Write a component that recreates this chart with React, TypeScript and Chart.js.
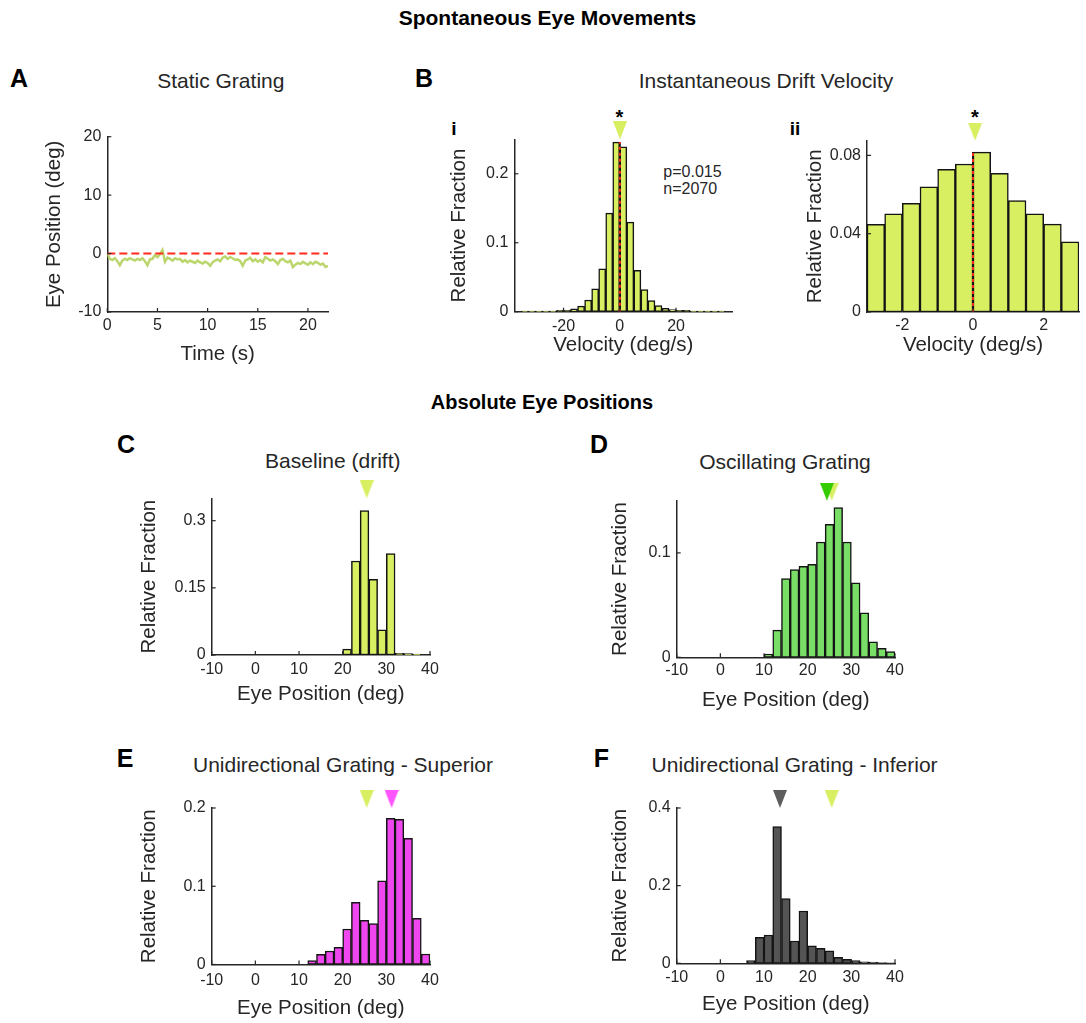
import React, { useEffect, useRef } from 'react';
import { Chart, registerables } from 'chart.js';

Chart.register(...registerables);

// ---------------- DATA ----------------
// Panel A: eye position over time (static grating)
const A_TIME_S = [0, 0.25, 0.5, 0.75, 1, 1.25, 1.5, 1.75, 2, 2.25, 2.5, 2.75, 3, 3.25, 3.5, 3.75, 4, 4.25, 4.5, 4.75, 5, 5.25, 5.5, 5.75, 6, 6.25, 6.5, 6.75, 7, 7.25, 7.5, 7.75, 8, 8.25, 8.5, 8.75, 9, 9.25, 9.5, 9.75, 10, 10.25, 10.5, 10.75, 11, 11.25, 11.5, 11.75, 12, 12.25, 12.5, 12.75, 13, 13.25, 13.5, 13.75, 14, 14.25, 14.5, 14.75, 15, 15.25, 15.5, 15.75, 16, 16.25, 16.5, 16.75, 17, 17.25, 17.5, 17.75, 18, 18.25, 18.5, 18.75, 19, 19.25, 19.5, 19.75, 20, 20.25, 20.5, 20.75, 21, 21.25, 21.5, 21.75, 22];
const A_EYE_POS_DEG = [0, -0.9, -1.1, -0.8, -1.3, -2.0, -1.2, -0.9, -1.1, -0.8, -1.0, -1.2, -0.9, -1.1, -0.8, -1.3, -2.0, -1.0, -0.9, -0.3, -0.6, -0.1, 0.6, -1.4, -0.7, -0.9, -1.2, -0.8, -1.0, -0.9, -1.4, -1.1, -1.5, -1.2, -1.4, -1.6, -1.2, -1.5, -1.7, -1.4, -1.6, -2.1, -1.5, -1.2, -1.0, -1.3, -0.7, -0.5, -0.9, -0.6, -0.8, -1.1, -1.0, -1.3, -2.1, -1.2, -1.0, -0.7, -1.3, -1.0, -1.4, -1.1, -1.5, -0.6, -0.9, -1.2, -1.0, -1.3, -1.8, -1.1, -0.9, -1.3, -1.5, -1.2, -2.3, -1.9, -1.6, -1.8, -1.4, -1.7, -1.9, -1.5, -1.8, -1.4, -1.6, -1.9, -1.7, -2.3, -2.1];
const A_REFERENCE_DEG = 0;
const A_X_TICKS = [0, 5, 10, 15, 20];
const A_Y_TICKS = [-10, 0, 10, 20];

// Panel Bi: drift velocity histogram (2.5 deg/s bins)
const BI_BIN_CENTERS = [-33.75, -31.25, -28.75, -26.25, -23.75, -21.25, -18.75, -16.25, -13.75, -11.25, -8.75, -6.25, -3.75, -1.25, 1.25, 3.75, 6.25, 8.75, 11.25, 13.75, 16.25, 18.75, 21.25, 23.75, 26.25, 28.75, 31.25, 33.75, 36.25];
const BI_FRACTION = [0.001, 0.001, 0.001, 0.001, 0.001, 0.002, 0.002, 0.004, 0.008, 0.017, 0.033, 0.062, 0.143, 0.246, 0.239, 0.130, 0.060, 0.032, 0.016, 0.009, 0.005, 0.003, 0.002, 0.002, 0.001, 0.001, 0.001, 0.001, 0.001];
const BI_X_TICKS = [-20, 0, 20];
const BI_Y_TICKS = [0, 0.1, 0.2];

// Panel Bii: zoomed drift velocity histogram (0.5 deg/s bins)
const BII_BIN_CENTERS = [-2.75, -2.25, -1.75, -1.25, -0.75, -0.25, 0.25, 0.75, 1.25, 1.75, 2.25, 2.75];
const BII_FRACTION = [0.0448, 0.0501, 0.0555, 0.0640, 0.0729, 0.0756, 0.0817, 0.0708, 0.0569, 0.0501, 0.0449, 0.0359];
const BII_X_TICKS = [-2, 0, 2];
const BII_Y_TICKS = [0, 0.04, 0.08];
const B_MEAN_VELOCITY = 0.06;
const B_ZERO_VELOCITY = 0;

// Panels C–F: absolute eye position histograms (2 deg bins)
const POS_X_TICKS = [-10, 0, 10, 20, 30, 40];

const C_BIN_CENTERS = [21, 23, 25, 27, 29, 31, 33, 35, 37];
const C_FRACTION = [0.013, 0.210, 0.3225, 0.169, 0.056, 0.2265, 0.004, 0.003, 0.002];
const C_Y_TICKS = [0, 0.15, 0.3];
const BASELINE_MEAN_DEG = 25.5;

const D_BIN_CENTERS = [11, 13, 15, 17, 19, 21, 23, 25, 27, 29, 31, 33, 35, 37, 39];
const D_FRACTION = [0.003, 0.026, 0.0755, 0.084, 0.0872, 0.0891, 0.1104, 0.1273, 0.1433, 0.1104, 0.0713, 0.0426, 0.0149, 0.0086, 0.0054];
const D_Y_TICKS = [0, 0.1];
const D_MEAN_DEG = 24.4;

const E_BIN_CENTERS = [13, 15, 17, 19, 21, 23, 25, 27, 29, 31, 33, 35, 37, 39];
const E_FRACTION = [0.0049, 0.013, 0.0173, 0.022, 0.0454, 0.0795, 0.0565, 0.0522, 0.107, 0.1868, 0.1855, 0.1613, 0.059, 0.0134];
const E_Y_TICKS = [0, 0.1, 0.2];
const E_MEAN_DEG = 31.2;

const F_BIN_CENTERS = [7, 9, 11, 13, 15, 17, 19, 21, 23, 25, 27, 29, 31, 33, 35, 37, 39];
const F_FRACTION = [0.0067, 0.067, 0.073, 0.352, 0.167, 0.0574, 0.1347, 0.0453, 0.0386, 0.0324, 0.0155, 0.0103, 0.0067, 0.004, 0.003, 0.002, 0.001];
const F_Y_TICKS = [0, 0.2, 0.4];
const F_MEAN_DEG = 13.65;

// ---------------- STYLE ----------------
const FONT = '"Liberation Sans", Arial, Helvetica, sans-serif';
const INK = '#262626';
const EDGE = '#141414';
const RED = '#ff2a1a';
const YG = '#d8ef62';
const LINE_GREEN = '#bcd66e';
const GREEN_BAR = '#78de66';
const GREEN_MARK = '#33cc00';
const MAGENTA_BAR = '#f046f0';
const MAGENTA_MARK = '#ff55ff';
const GRAY_BAR = '#545454';
const GRAY_MARK = '#5e5e5e';

Chart.defaults.font.family = FONT;
Chart.defaults.color = INK;

type Box = {
  left: number; top: number; width: number; height: number;
  plotLeft: number; plotRight: number; plotTop: number; plotBottom: number;
  xTickPad: number;
};

const BOX_A: Box = { left: 42, top: 118, width: 306, height: 249, plotLeft: 107.3, plotRight: 328, plotTop: 136.7, plotBottom: 312, xTickPad: 3.5 };
const BOX_BI: Box = { left: 447, top: 95, width: 305, height: 263, plotLeft: 514.3, plotRight: 732.3, plotTop: 139.3, plotBottom: 311.7, xTickPad: 5 };
const BOX_BII: Box = { left: 803, top: 95, width: 283, height: 263, plotLeft: 867, plotRight: 1085, plotTop: 140.7, plotBottom: 312, xTickPad: 3.5 };
const BOX_C: Box = { left: 137, top: 470, width: 313, height: 237, plotLeft: 211.7, plotRight: 430, plotTop: 498.3, plotBottom: 655, xTickPad: 5 };
const BOX_D: Box = { left: 608, top: 472, width: 307, height: 241, plotLeft: 676.7, plotRight: 895, plotTop: 500.7, plotBottom: 657.3, xTickPad: 3.5 };
const BOX_E: Box = { left: 137, top: 780, width: 313, height: 241, plotLeft: 211.7, plotRight: 430, plotTop: 808, plotBottom: 964.5, xTickPad: 6 };
const BOX_F: Box = { left: 608, top: 780, width: 307, height: 237, plotLeft: 676.7, plotRight: 895, plotTop: 808, plotBottom: 963.3, xTickPad: 5 };

const inwardTicks = {
  id: 'inwardTicks',
  afterDatasetsDraw(chart: any) {
    const { ctx, chartArea } = chart;
    ctx.save();
    ctx.strokeStyle = INK;
    ctx.lineWidth = 1.2;
    Object.values(chart.scales).forEach((s: any) => {
      s.ticks.forEach((t: any) => {
        const p = s.getPixelForValue(t.value);
        ctx.beginPath();
        if (s.isHorizontal()) {
          ctx.moveTo(p, chartArea.bottom);
          ctx.lineTo(p, chartArea.bottom - 4);
        } else {
          ctx.moveTo(chartArea.left, p);
          ctx.lineTo(chartArea.left + 4, p);
        }
        ctx.stroke();
      });
    });
    ctx.restore();
  },
};

function makeTriangle(color: string, w = 14, h = 18): HTMLCanvasElement {
  const c = document.createElement('canvas');
  c.width = w;
  c.height = 2 * h;
  const g = c.getContext('2d')!;
  g.fillStyle = color;
  g.beginPath();
  g.moveTo(0, 0);
  g.lineTo(w, 0);
  g.lineTo(w / 2, h);
  g.closePath();
  g.fill();
  return c;
}

function layoutPadding(box: Box) {
  return {
    left: 0,
    bottom: 0,
    top: box.plotTop - box.top,
    right: box.left + box.width - box.plotRight,
  };
}

function buildScales(
  box: Box,
  xRange: [number, number], xTicks: number[], xTitle: string,
  yRange: [number, number], yTicks: number[], yTitle: string,
) {
  const tickFont = { family: FONT, size: 16 };
  const titleFont = { family: FONT, size: 20.5, lineHeight: 1.2 };
  const border = { display: true, color: INK, width: 1.5 };
  const grid = { display: false, drawTicks: false };
  return {
    x: {
      type: 'linear',
      min: xRange[0],
      max: xRange[1],
      offset: false,
      grid,
      border,
      afterBuildTicks: (s: any) => { s.ticks = xTicks.map((v) => ({ value: v })); },
      afterFit: (s: any) => { s.height = box.top + box.height - box.plotBottom; },
      ticks: { font: tickFont, color: INK, padding: box.xTickPad, autoSkip: false, maxRotation: 0, minRotation: 0, callback: (v: any) => String(v) },
      title: { display: true, text: xTitle, font: titleFont, color: INK, padding: 0 },
    },
    y: {
      type: 'linear',
      min: yRange[0],
      max: yRange[1],
      grid,
      border,
      afterBuildTicks: (s: any) => { s.ticks = yTicks.map((v) => ({ value: v })); },
      afterFit: (s: any) => { s.width = box.plotLeft - box.left; },
      ticks: { font: tickFont, color: INK, padding: 6, autoSkip: false, callback: (v: any) => String(v) },
      title: { display: true, text: yTitle, font: titleFont, color: INK, padding: 0 },
    },
  };
}

const baseOptions = (box: Box) => ({
  animation: false as const,
  responsive: false,
  maintainAspectRatio: false,
  events: [] as any[],
  layout: { padding: layoutPadding(box) },
  plugins: { legend: { display: false }, tooltip: { enabled: false }, title: { display: false } },
});

type Marker = { x: number; color: string };

type HistSpec = {
  box: Box;
  centers: number[];
  values: number[];
  fill: string;
  xRange: [number, number];
  xTicks: number[];
  xTitle: string;
  yRange: [number, number];
  yTicks: number[];
  yTitle: string;
  markers: Marker[];
  refLineAt?: number;
};

function histChart(canvas: HTMLCanvasElement, spec: HistSpec): Chart {
  const datasets: any[] = [];
  spec.markers.forEach((m, i) => {
    datasets.push({
      type: 'scatter',
      data: [{ x: m.x, y: spec.yRange[1] }],
      pointStyle: makeTriangle(m.color),
      pointRadius: 6,
      pointHoverRadius: 6,
      clip: false,
      order: i,
    });
  });
  if (spec.refLineAt !== undefined) {
    const peak = Math.max(...spec.values);
    const pts = [{ x: spec.refLineAt, y: 0 }, { x: spec.refLineAt, y: peak }];
    datasets.push({ type: 'line', data: pts, borderColor: EDGE, borderWidth: 2, pointRadius: 0, order: 20 });
    datasets.push({ type: 'line', data: pts, borderColor: RED, borderWidth: 2, borderDash: [3, 3], pointRadius: 0, order: 19 });
  }
  datasets.push({
    type: 'bar',
    data: spec.centers.map((c, i) => ({ x: c, y: spec.values[i] })),
    backgroundColor: spec.fill,
    borderColor: EDGE,
    borderWidth: 1.5,
    borderSkipped: false,
    barPercentage: 1,
    categoryPercentage: 1,
    order: 30,
  });
  return new Chart(canvas, {
    type: 'bar',
    data: { datasets },
    options: {
      ...baseOptions(spec.box),
      scales: buildScales(spec.box, spec.xRange, spec.xTicks, spec.xTitle, spec.yRange, spec.yTicks, spec.yTitle) as any,
    } as any,
    plugins: [inwardTicks as any],
  });
}

function timeChart(canvas: HTMLCanvasElement): Chart {
  const last = A_TIME_S.length - 1;
  return new Chart(canvas, {
    type: 'line',
    data: {
      datasets: [
        {
          data: [{ x: A_TIME_S[0], y: A_REFERENCE_DEG }, { x: A_TIME_S[last], y: A_REFERENCE_DEG }],
          borderColor: RED,
          borderWidth: 2,
          borderDash: [8, 4],
          pointRadius: 0,
          order: 1,
        },
        {
          data: A_TIME_S.map((t, i) => ({ x: t, y: A_EYE_POS_DEG[i] })),
          borderColor: LINE_GREEN,
          borderWidth: 2.5,
          pointRadius: 0,
          tension: 0,
          order: 2,
        },
      ],
    },
    options: {
      ...baseOptions(BOX_A),
      scales: buildScales(BOX_A, [0, 22], A_X_TICKS, 'Time (s)', [-10, 20], A_Y_TICKS, 'Eye Position (deg)') as any,
    } as any,
    plugins: [inwardTicks as any],
  });
}

function ChartCanvas({ box, make }: { box: Box; make: (c: HTMLCanvasElement) => Chart }) {
  const ref = useRef<HTMLCanvasElement>(null);
  useEffect(() => {
    const chart = make(ref.current!);
    return () => chart.destroy();
  }, []);
  return (
    <canvas
      ref={ref}
      width={box.width}
      height={box.height}
      style={{ position: 'absolute', left: box.left, top: box.top, width: box.width, height: box.height }}
    />
  );
}

function Txt({ x, y, size, bold, color, align, children }: { x: number; y: number; size: number; bold?: boolean; color?: string; align?: 'left' | 'center'; children: React.ReactNode }) {
  return (
    <div
      style={{
        position: 'absolute',
        left: x,
        top: y,
        transform: align === 'left' ? 'translate(0,-50%)' : 'translate(-50%,-50%)',
        fontSize: size,
        lineHeight: 1,
        fontWeight: bold ? 700 : 400,
        color: color || INK,
        whiteSpace: 'nowrap',
        fontFamily: FONT,
      }}
    >
      {children}
    </div>
  );
}

const REL = 'Relative Fraction';
const EYE = 'Eye Position (deg)';
const VEL = 'Velocity (deg/s)';

export default function App() {
  return (
    <div style={{ position: 'absolute', left: 0, top: 0, width: 1086, height: 1023, overflow: 'hidden', background: '#fff', fontFamily: FONT }}>
      <Txt x={547.5} y={16.5} size={21} bold color="#000">Spontaneous Eye Movements</Txt>
      <Txt x={542} y={402} size={20} bold color="#000">Absolute Eye Positions</Txt>

      <Txt x={19} y={77.5} size={25} bold color="#000">A</Txt>
      <Txt x={424} y={77.5} size={25} bold color="#000">B</Txt>
      <Txt x={126} y={444} size={25} bold color="#000">C</Txt>
      <Txt x={599} y={444} size={25} bold color="#000">D</Txt>
      <Txt x={125} y={758} size={25} bold color="#000">E</Txt>
      <Txt x={601.5} y={758} size={25} bold color="#000">F</Txt>

      <Txt x={220.8} y={79.7} size={21}>Static Grating</Txt>
      <Txt x={766} y={79.7} size={21}>Instantaneous Drift Velocity</Txt>
      <Txt x={332.8} y={460} size={21}>Baseline (drift)</Txt>
      <Txt x={785} y={460.5} size={21}>Oscillating Grating</Txt>
      <Txt x={343} y={764} size={21}>Unidirectional Grating - Superior</Txt>
      <Txt x={794.6} y={764} size={21}>Unidirectional Grating - Inferior</Txt>

      <Txt x={454} y={127.5} size={19} bold color="#000">i</Txt>
      <Txt x={795} y={127.5} size={19} bold color="#000">ii</Txt>
      <Txt x={619.5} y={117} size={20} bold color="#000">*</Txt>
      <Txt x={975} y={117} size={20} bold color="#000">*</Txt>
      <Txt x={663.3} y={171.7} size={16} align="left">p=0.015</Txt>
      <Txt x={663.3} y={188.5} size={16} align="left">n=2070</Txt>

      <ChartCanvas box={BOX_A} make={(c) => timeChart(c)} />
      <ChartCanvas
        box={BOX_BI}
        make={(c) => histChart(c, {
          box: BOX_BI, centers: BI_BIN_CENTERS, values: BI_FRACTION, fill: YG,
          xRange: [-37.5, 40], xTicks: BI_X_TICKS, xTitle: VEL,
          yRange: [0, 0.25], yTicks: BI_Y_TICKS, yTitle: REL,
          markers: [{ x: B_MEAN_VELOCITY, color: YG }], refLineAt: B_ZERO_VELOCITY,
        })}
      />
      <ChartCanvas
        box={BOX_BII}
        make={(c) => histChart(c, {
          box: BOX_BII, centers: BII_BIN_CENTERS, values: BII_FRACTION, fill: YG,
          xRange: [-3, 3], xTicks: BII_X_TICKS, xTitle: VEL,
          yRange: [0, 0.0875], yTicks: BII_Y_TICKS, yTitle: REL,
          markers: [{ x: B_MEAN_VELOCITY, color: YG }], refLineAt: B_ZERO_VELOCITY,
        })}
      />
      <ChartCanvas
        box={BOX_C}
        make={(c) => histChart(c, {
          box: BOX_C, centers: C_BIN_CENTERS, values: C_FRACTION, fill: YG,
          xRange: [-10, 40], xTicks: POS_X_TICKS, xTitle: EYE,
          yRange: [0, 0.35], yTicks: C_Y_TICKS, yTitle: REL,
          markers: [{ x: BASELINE_MEAN_DEG, color: YG }],
        })}
      />
      <ChartCanvas
        box={BOX_D}
        make={(c) => histChart(c, {
          box: BOX_D, centers: D_BIN_CENTERS, values: D_FRACTION, fill: GREEN_BAR,
          xRange: [-10, 40], xTicks: POS_X_TICKS, xTitle: EYE,
          yRange: [0, 0.15], yTicks: D_Y_TICKS, yTitle: REL,
          markers: [{ x: D_MEAN_DEG, color: GREEN_MARK }, { x: BASELINE_MEAN_DEG, color: YG }],
        })}
      />
      <ChartCanvas
        box={BOX_E}
        make={(c) => histChart(c, {
          box: BOX_E, centers: E_BIN_CENTERS, values: E_FRACTION, fill: MAGENTA_BAR,
          xRange: [-10, 40], xTicks: POS_X_TICKS, xTitle: EYE,
          yRange: [0, 0.2], yTicks: E_Y_TICKS, yTitle: REL,
          markers: [{ x: BASELINE_MEAN_DEG, color: YG }, { x: E_MEAN_DEG, color: MAGENTA_MARK }],
        })}
      />
      <ChartCanvas
        box={BOX_F}
        make={(c) => histChart(c, {
          box: BOX_F, centers: F_BIN_CENTERS, values: F_FRACTION, fill: GRAY_BAR,
          xRange: [-10, 40], xTicks: POS_X_TICKS, xTitle: EYE,
          yRange: [0, 0.4], yTicks: F_Y_TICKS, yTitle: REL,
          markers: [{ x: F_MEAN_DEG, color: GRAY_MARK }, { x: BASELINE_MEAN_DEG, color: YG }],
        })}
      />
    </div>
  );
}
